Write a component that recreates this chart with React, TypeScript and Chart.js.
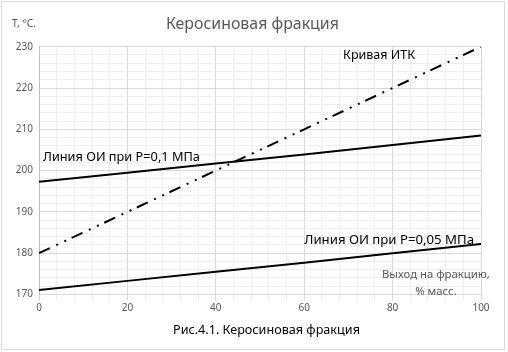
import React, { useEffect, useRef } from "react";
import { Chart, registerables } from "chart.js";

Chart.register(...registerables);

const xValues = [0, 20, 40, 60, 80, 100];
const itkValues = [180, 190, 200, 210, 220, 230];
const oi01Values = [197.3, 199.5, 201.7, 203.9, 206.2, 208.5];
const oi005Values = [171.1, 173.3, 175.5, 177.7, 180.0, 182.2];

const seriesNames = ["Кривая ИТК", "Линия ОИ при P=0,1 МПа", "Линия ОИ при P=0,05 МПа"];
const titleText = "Керосиновая фракция";
const yUnitText = "Т, °С.";
const xUnitLines = ["Выход на фракцию,", "% масс."];
const captionText = "Рис.4.1. Керосиновая фракция";

const FONT = "'Noto Sans', 'Open Sans', sans-serif";

// font size that makes the text as wide
function fitSize(ctx: CanvasRenderingContext2D, text: string, width: number, base: number) {
  ctx.font = `${base}px ${FONT}`;
  const w = ctx.measureText(text).width;
  return Math.max(8, Math.min(base * 1.3, (base * width) / w));
}

function fitText(
  ctx: CanvasRenderingContext2D,
  text: string,
  x: number,
  y: number,
  width: number,
  base: number,
  align: CanvasTextAlign
) {
  const size = fitSize(ctx, text, width, base);
  ctx.font = `${size.toFixed(2)}px ${FONT}`;
  ctx.textAlign = align;
  ctx.fillText(text, x, y);
  return size;
}

const textPlugin = {
  id: "textPlugin",
  beforeDraw(chart: any) {
    const ctx = chart.ctx;
    ctx.save();
    ctx.fillStyle = "#ffffff";
    ctx.fillRect(0, 0, chart.width, chart.height);
    ctx.strokeStyle = "#d9d9d9";
    ctx.lineWidth = 1;
    ctx.strokeRect(1.5, 1.5, 503, 348);
    ctx.restore();
  },
  afterDatasetsDraw(chart: any) {
    const ctx = chart.ctx;
    const xs = chart.scales.x;
    const ys = chart.scales.y;
    ctx.save();
    ctx.textBaseline = "middle";
    ctx.fillStyle = "#595959";
    fitText(ctx, titleText, 166, 24, 173, 15, "left");
    fitText(ctx, yUnitText, 12, 24, 24, 10, "left");
    ctx.fillStyle = "#000000";
    fitText(ctx, seriesNames[0], xs.getPixelForValue(68.8), ys.getPixelForValue(228), 72, 12, "left");
    fitText(ctx, seriesNames[1], xs.getPixelForValue(0.9), ys.getPixelForValue(203.3), 157, 12, "left");
    fitText(ctx, seriesNames[2], xs.getPixelForValue(60.0), ys.getPixelForValue(183.2), 170, 12, "left");
    ctx.fillStyle = "#595959";
    const cx = xs.getPixelForValue(89.8);
    const sz = fitText(ctx, xUnitLines[0], cx, ys.getPixelForValue(174.7), 108, 11, "center");
    ctx.font = `${sz.toFixed(2)}px ${FONT}`;
    ctx.textAlign = "center";
    ctx.fillText(xUnitLines[1], cx, ys.getPixelForValue(170.6));
    ctx.fillStyle = "#000000";
    fitText(ctx, captionText, 173, 330, 187, 12, "left");
    ctx.restore();
  },
};

export default function App() {
  const canvasRef = useRef<HTMLCanvasElement | null>(null);

  useEffect(() => {
    if (!canvasRef.current) return;
    const mk = (vals: number[]) => xValues.map((x, i) => ({ x, y: vals[i] }));
    const chart = new Chart(canvasRef.current, {
      type: "line",
      data: {
        datasets: [
          {
            label: seriesNames[0],
            data: mk(itkValues),
            borderColor: "#000000",
            borderWidth: 2,
            borderDash: [12, 7, 2, 7, 2, 6],
            pointRadius: 0,
            tension: 0,
          },
          {
            label: seriesNames[1],
            data: mk(oi01Values),
            borderColor: "#000000",
            borderWidth: 2,
            pointRadius: 0,
            tension: 0,
          },
          {
            label: seriesNames[2],
            data: mk(oi005Values),
            borderColor: "#000000",
            borderWidth: 2,
            pointRadius: 0,
            tension: 0,
          },
        ],
      },
      options: {
        responsive: false,
        animation: false,
        devicePixelRatio: 1,
        layout: { padding: { left: 0, right: 27, top: 46.7, bottom: 0 } },
        plugins: {
          legend: { display: false },
          title: { display: false },
          tooltip: { enabled: false },
        },
        scales: {
          x: {
            type: "linear",
            min: 0,
            max: 100,
            afterFit: (s: any) => {
              s.height = 352 - 294.5;
            },
            ticks: {
              stepSize: 4,
              autoSkip: false,
              maxRotation: 0,
              color: "#595959",
              font: { family: FONT, size: 10 },
              padding: 2,
              callback: (v: any) => (Number(v) % 20 === 0 ? String(v) : ""),
            },
            grid: {
              color: (c: any) => (c.tick && c.tick.value % 20 === 0 ? "#d9d9d9" : "#eeeeee"),
              tickLength: 6,
            },
            border: { color: "#d9d9d9" },
          },
          y: {
            type: "linear",
            min: 170,
            max: 230,
            afterFit: (s: any) => {
              s.width = 39;
            },
            ticks: {
              stepSize: 2,
              autoSkip: false,
              color: "#595959",
              font: { family: FONT, size: 10 },
              padding: 6,
              callback: (v: any) => (Number(v) % 10 === 0 ? String(v) : ""),
            },
            grid: {
              color: (c: any) => (c.tick && c.tick.value % 10 === 0 ? "#d9d9d9" : "#eeeeee"),
              drawTicks: false,
            },
            border: { color: "#bfbfbf" },
          },
        },
      },
      plugins: [textPlugin],
    });
    return () => chart.destroy();
  }, []);

  return (
    <div style={{ position: "absolute", left: 0, top: 0, width: 508, height: 352 }}>
      <canvas ref={canvasRef} width={508} height={352} style={{ display: "block" }} />
    </div>
  );
}
